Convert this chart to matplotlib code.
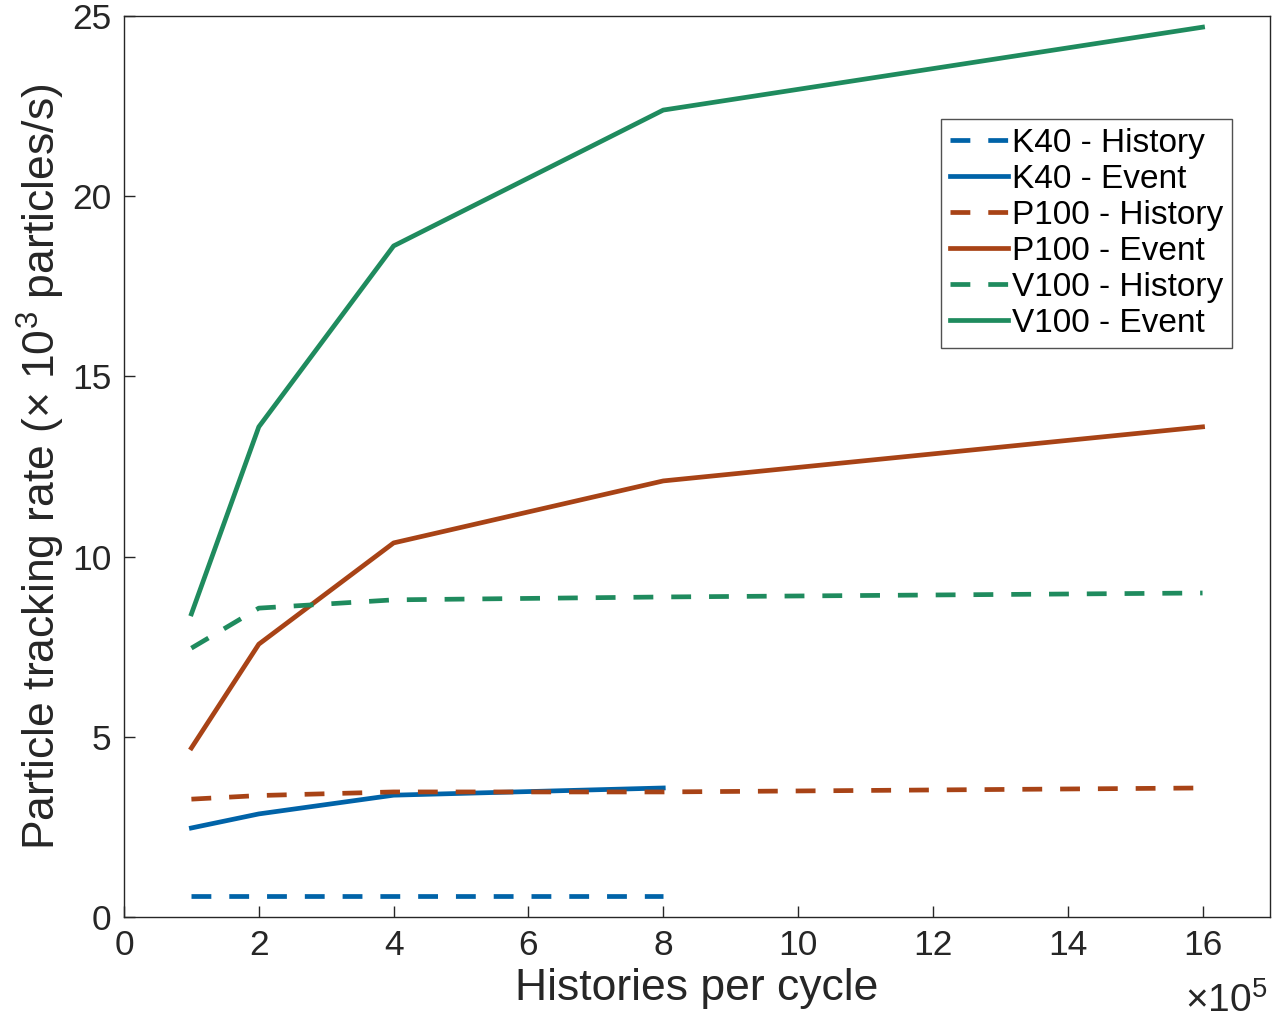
import matplotlib.pyplot as plt

plt.rcParams['font.family'] = ['Liberation Sans', 'DejaVu Sans']
plt.rcParams['mathtext.fontset'] = 'custom'
plt.rcParams['mathtext.rm'] = 'Liberation Sans'

# histories per cycle (x 1e5)
x_k40 = [1, 2, 4, 8]
x_all = [1, 2, 4, 8, 16]

k40_history = [0.58, 0.58, 0.58, 0.58]
k40_event = [2.47, 2.86, 3.38, 3.58]
p100_history = [3.27, 3.37, 3.47, 3.47, 3.58]
p100_event = [4.69, 7.57, 10.38, 12.1, 13.6]
v100_history = [7.46, 8.57, 8.8, 8.88, 8.99]
v100_event = [8.41, 13.6, 18.62, 22.39, 24.69]

blue = '#0063A8'
orange = '#A84316'
green = '#1F8B5E'
dark = '#262626'

fig = plt.figure(figsize=(12.73, 10.19), dpi=100)
ax = fig.add_axes([0.0974, 0.1001, 0.9002, 0.8842])

lw = 3.4
dash = (0, (4.2, 3.8))
ax.plot(x_k40, k40_history, color=blue, lw=lw, linestyle=dash, label='K40 - History')
ax.plot(x_k40, k40_event, color=blue, lw=lw, label='K40 - Event')
ax.plot(x_all, p100_history, color=orange, lw=lw, linestyle=dash, label='P100 - History')
ax.plot(x_all, p100_event, color=orange, lw=lw, label='P100 - Event')
ax.plot(x_all, v100_history, color=green, lw=lw, linestyle=dash, label='V100 - History')
ax.plot(x_all, v100_event, color=green, lw=lw, label='V100 - Event')

ax.set_xlim(0, 17)
ax.set_ylim(0, 25)
ax.set_xticks(range(0, 17, 2))
ax.set_yticks(range(0, 26, 5))
ax.tick_params(direction='in', length=8, width=1, labelsize=25.5, pad=9,
               colors=dark, labelcolor=dark)
for s in ax.spines.values():
    s.set_color(dark)
    s.set_linewidth(1)

ax.set_xlabel('Histories per cycle', fontsize=32, labelpad=4, color=dark)
ax.set_ylabel(r'Particle tracking rate ($\times$ 10$^3$ particles/s)', fontsize=32,
              labelpad=4, color=dark)
ax.text(0.998, -0.105, r'$\times$10$^5$', transform=ax.transAxes, ha='right', va='baseline',
        fontsize=28, color=dark)

leg = ax.legend(loc='upper right', bbox_to_anchor=(0.967, 0.886), fontsize=24,
                frameon=True, fancybox=False, edgecolor=dark, handlelength=1.75,
                handletextpad=0.1, borderpad=0.28, labelspacing=0.15, borderaxespad=0)
leg.get_frame().set_linewidth(1)

fig.savefig('out.png', dpi=100)
